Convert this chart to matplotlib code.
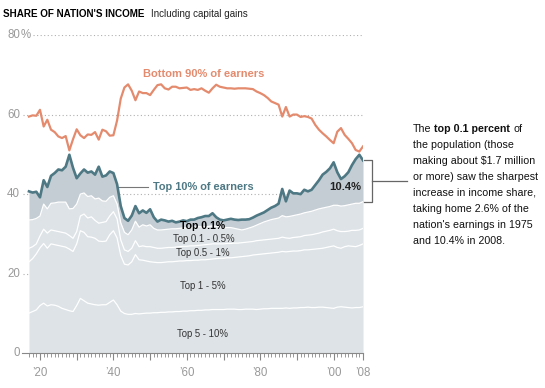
import numpy as np
import matplotlib.pyplot as plt

plt.rcParams['font.family'] = ['Liberation Sans', 'DejaVu Sans']

years = list(range(1917, 2009))

# Top 10% of earners (teal line, top of the shaded stack)
top10 = [
    40.7, 40.4, 40.6,                                            # 1917-19
    39.2, 43.5, 41.8, 44.6, 45.3, 46.2, 46.0, 46.9, 49.9, 46.6,  # 1920s
    44.0, 45.2, 46.2, 45.4, 45.7, 44.9, 46.9, 44.4, 44.7, 45.7,  # 1930s
    45.3, 42.5, 37.0, 34.0, 33.3, 34.6, 37.0, 35.2, 35.9, 35.3,  # 1940s
    36.2, 34.2, 33.1, 33.6, 33.4, 33.1, 33.3, 32.9, 33.1, 33.4,  # 1950s
    33.2, 33.6, 33.6, 34.0, 34.2, 34.5, 34.5, 35.2, 34.2, 33.6,  # 1960s
    33.4, 33.6, 33.8, 33.6, 33.5, 33.6, 33.6, 33.7, 34.1, 34.6,  # 1970s
    35.0, 35.4, 36.0, 36.6, 37.0, 37.6, 41.3, 38.2, 40.9, 40.2,  # 1980s
    40.2, 40.0, 41.1, 40.7, 41.1, 42.3, 43.5, 44.9, 45.6, 46.5,  # 1990s
    48.0, 45.5, 43.8, 44.5, 45.5, 47.3, 48.8, 49.9, 48.5,        # 2000-08
]

# Bottom 90% of earners (orange line)
bottom90 = [
    59.5, 59.8, 59.7,
    61.2, 57.0, 58.7, 56.2, 55.6, 54.5, 54.1, 54.6, 51.0, 53.8,
    56.3, 54.8, 54.1, 55.0, 54.9, 55.6, 53.7, 56.2, 55.8, 54.7,
    54.8, 58.5, 64.0, 66.8, 67.6, 66.0, 63.6, 65.8, 65.4, 65.4,
    64.9, 66.2, 67.4, 67.6, 66.6, 66.3, 67.0, 67.0, 66.6, 66.7,
    66.8, 66.2, 66.4, 66.2, 66.6, 66.0, 65.5, 66.6, 67.5, 67.0,
    66.8, 66.6, 66.6, 66.5, 66.6, 66.6, 66.6, 66.5, 66.4, 65.8,
    65.4, 64.9, 64.2, 63.3, 62.9, 62.5, 59.5, 61.9, 59.5, 60.0,
    60.0, 59.4, 59.6, 59.4, 59.0, 57.4, 56.2, 55.3, 54.5, 53.6,
    52.8, 55.7, 56.6, 54.9, 53.9, 52.8, 51.1, 50.7, 52.0,
]

# Cumulative shares inside the top decile (bottom of stack upward)
# top 5-10%
p90_95 = [
    10.1, 10.5, 10.9,
    12.0, 12.6, 11.9, 12.2, 12.1, 11.8, 11.3, 11.0, 10.7, 10.5,
    12.0, 13.8, 13.2, 12.6, 12.4, 12.2, 12.1, 12.2, 12.2, 12.8,
    13.4, 12.2, 10.6, 10.0, 9.8, 9.8, 10.0, 9.9, 10.0, 10.1,
    10.1, 10.2, 10.2, 10.3, 10.3, 10.4, 10.4, 10.5, 10.5, 10.6,
    10.6, 10.7, 10.7, 10.8, 10.8, 10.9, 10.9, 11.0, 11.0, 11.0,
    11.0, 11.1, 11.1, 11.1, 11.0, 11.0, 11.1, 11.1, 11.1, 11.0,
    11.1, 11.2, 11.2, 11.3, 11.3, 11.3, 11.3, 11.4, 11.3, 11.4,
    11.4, 11.5, 11.5, 11.6, 11.5, 11.5, 11.6, 11.6, 11.5, 11.4,
    11.3, 11.6, 11.7, 11.6, 11.5, 11.4, 11.5, 11.5, 11.7,
]
# + top 1-5%
p90_99 = [
    23.0, 23.8, 25.0,
    26.5, 27.6, 26.4, 27.5, 27.3, 27.1, 26.9, 26.7, 26.2, 25.6,
    27.5, 30.8, 30.4, 29.3, 29.2, 28.9, 28.2, 28.1, 28.2, 29.8,
    30.8, 29.0, 24.6, 22.4, 22.2, 23.0, 24.8, 23.5, 23.4, 23.2,
    23.0, 22.9, 22.8, 22.8, 22.9, 23.0, 23.0, 23.1, 23.2, 23.2,
    23.3, 23.3, 23.4, 23.4, 23.5, 23.5, 23.6, 23.7, 23.8, 23.9,
    23.9, 24.0, 24.0, 24.1, 24.2, 24.3, 24.4, 24.5, 24.7, 24.8,
    24.9, 25.0, 25.1, 25.2, 25.3, 25.4, 25.6, 25.5, 25.6, 25.7,
    25.7, 25.8, 26.0, 26.0, 26.1, 26.2, 26.3, 26.4, 26.6, 26.8,
    27.0, 26.6, 26.4, 26.8, 27.0, 26.9, 26.8, 27.1, 27.5,
]
# + top 0.5-1%
p90_995 = [
    26.4, 26.8, 27.5,
    29.5, 31.2, 30.2, 31.0, 30.8, 30.6, 30.4, 30.2, 29.6, 28.9,
    30.6, 34.5, 35.0, 34.0, 34.3, 33.4, 32.7, 32.9, 33.1, 34.5,
    35.6, 33.8, 28.5, 26.0, 25.6, 26.4, 28.3, 26.8, 27.0, 26.8,
    26.8, 26.6, 26.4, 26.4, 26.5, 26.6, 26.6, 26.7, 26.8, 26.9,
    26.9, 27.0, 27.0, 27.1, 27.2, 27.3, 27.4, 27.5, 27.5, 27.5,
    27.5, 27.6, 27.6, 27.7, 27.7, 27.8, 27.9, 28.0, 28.1, 28.3,
    28.4, 28.5, 28.6, 28.7, 28.8, 28.9, 29.2, 29.0, 28.9, 29.1,
    29.2, 29.3, 29.6, 29.7, 29.8, 30.0, 30.2, 30.5, 30.7, 30.9,
    31.2, 30.8, 30.6, 30.6, 30.7, 30.9, 30.9, 31.0, 31.4,
]
# + top 0.1-0.5%  (what is left up to top10 is the top 0.1%)
p90_999 = [
    33.5, 33.6, 33.9,
    34.5, 37.5, 36.3, 37.7, 37.8, 38.0, 38.0, 38.0, 36.3, 36.4,
    37.5, 40.0, 40.3, 39.4, 39.6, 38.8, 39.0, 38.3, 38.2, 39.2,
    39.6, 37.5, 32.8, 30.4, 29.8, 31.0, 33.2, 31.7, 32.3, 32.0,
    32.3, 31.4, 31.0, 31.0, 31.1, 31.2, 31.3, 31.3, 31.4, 31.5,
    31.5, 31.6, 31.7, 31.8, 31.8, 31.8, 31.9, 32.0, 31.9, 31.9,
    31.5, 31.6, 31.6, 31.4, 31.2, 31.0, 31.2, 31.5, 31.8, 32.2,
    32.6, 33.0, 33.3, 33.6, 33.8, 34.0, 34.6, 34.3, 34.4, 34.6,
    34.8, 35.0, 35.3, 35.5, 35.7, 36.0, 36.3, 36.5, 36.7, 36.9,
    37.2, 37.2, 37.0, 37.1, 37.3, 37.5, 37.7, 37.7, 38.1,
]

tick_years = [1920, 1930, 1940, 1950, 1960, 1970, 1980, 1990, 2000, 2008]
tick_labels = ["\u201920", "", "\u201940", "", "\u201960", "", "\u201980", "",
               "\u201900", "\u201908"]
y_levels = [20, 40, 60, 80]

note_lines = [
    "the population (those",
    "making about $1.7 million",
    "or more) saw the sharpest",
    "increase in income share,",
    "taking home 2.6% of the",
    "nation's earnings in 1975",
    "and 10.4% in 2008.",
]

W, H = 545, 388
TEAL = '#4d7884'
ORANGE = '#e48b6e'
LIGHT = '#dde3e7'
DARK = '#c4cdd3'
GREY = '#999999'

fig = plt.figure(figsize=(W / 100, H / 100), dpi=100)
ax = fig.add_axes([22 / W, 1 - 353.3 / H, 341 / W, 318.3 / H])
ax.set_xlim(1915.1, 2008)
ax.set_ylim(0, 80)

# dotted gridlines + y labels
for y in y_levels:
    x0 = 1918.0 if y == 80 else 1915.4
    ax.plot([x0, 2008], [y, y], color='#b0b0b0', lw=0.8, ls=(0, (1, 2.2)), zorder=0)
    ax.text(1914.6, y, str(y), ha='right', va='center', fontsize=8.3,
            color=GREY, clip_on=False)
ax.text(1914.6, 0, '0', ha='right', va='center', fontsize=8.3, color=GREY, clip_on=False)
ax.text(1914.6, 80, '%', ha='left', va='center', fontsize=8.3, color=GREY, clip_on=False)

# stacked bands of the top decile
ax.fill_between(years, 0, p90_999, color=LIGHT, lw=0, zorder=1)
ax.fill_between(years, p90_999, top10, color=DARK, lw=0, zorder=1)
for s in [p90_95, p90_99, p90_995, p90_999]:
    ax.plot(years, s, color='white', lw=0.9, zorder=2)

ax.plot(years, top10, color=TEAL, lw=1.9, zorder=4, solid_joinstyle='round')
ax.plot(years, bottom90, color=ORANGE, lw=1.6, zorder=4, solid_joinstyle='round')

# axes styling
for side in ['top', 'right', 'left']:
    ax.spines[side].set_visible(False)
ax.spines['bottom'].set_color('#888888')
ax.spines['bottom'].set_linewidth(0.8)
ax.set_yticks([])
ax.set_xticks(tick_years, tick_labels)
ax.set_xticks(years, minor=True)
ax.tick_params(axis='x', which='major', length=5, width=0.8, color='#888888',
               pad=5, labelsize=8.3, labelcolor=GREY)
ax.tick_params(axis='x', which='minor', length=2.8, width=0.6, color='#888888')

# series labels
ax.text(1964.7, 70.3, 'Bottom 90% of earners', ha='center', va='center',
        fontsize=8.0, weight='bold', color=ORANGE)
ax.plot([1941.3, 1949.4], [41.9, 41.9], color='#777777', lw=0.8, zorder=3)
ax.text(1950.7, 41.8, 'Top 10% of earners', ha='left', va='center',
        fontsize=7.9, weight='bold', color=TEAL, zorder=5)
ax.text(1964.4, 32.0, 'Top 0.1%', ha='center', va='center', fontsize=7.6,
        weight='bold', color='black', zorder=5)
ax.text(1964.7, 28.8, 'Top 0.1 - 0.5%', ha='center', va='center', fontsize=6.9, color='#333333', zorder=5)
ax.text(1964.4, 25.3, 'Top 0.5 - 1%', ha='center', va='center', fontsize=6.9, color='#333333', zorder=5)
ax.text(1964.4, 16.8, 'Top 1 - 5%', ha='center', va='center', fontsize=6.9, color='#333333', zorder=5)
ax.text(1964.3, 4.9, 'Top 5 - 10%', ha='center', va='center', fontsize=6.9, color='#333333', zorder=5)
ax.text(2007.5, 41.7, '10.4%', ha='right', va='center', fontsize=8.1,
        weight='bold', color='#222222', zorder=5)

# bracket around the top 0.1% band in 2008
xb = 2010.5
ax.plot([2008.3, xb, xb, 2008.3], [top10[-1], top10[-1], p90_999[-1], p90_999[-1]],
        color='#666666', lw=0.9, clip_on=False)
mid = (top10[-1] + p90_999[-1]) / 2
ax.plot([xb, 2019.9], [mid, mid], color='#666666', lw=0.9, clip_on=False)

# title
fig.text(3.3 / W, 1 - 16.7 / H, "SHARE OF NATION'S INCOME", fontsize=7.1,
         weight='bold', color='black', va='baseline')
fig.text(151 / W, 1 - 16.7 / H, 'Including capital gains', fontsize=7.15,
         color='#222222', va='baseline')

# side note, first line has a bold run
fig.canvas.draw()
r = fig.canvas.get_renderer()


def text_width(s, **kw):
    t = fig.text(0, 0, s, **kw)
    w = t.get_window_extent(renderer=r).width
    t.remove()
    return w


note_kw = dict(fontsize=7.7, color='#111111', va='baseline')
space = text_width('a a', **note_kw) - text_width('aa', **note_kw)
x = 413
y0 = 131.7
for s, wgt in [('The', 'normal'), ('top 0.1 percent', 'bold'), ('of', 'normal')]:
    fig.text(x / W, 1 - y0 / H, s, weight=wgt, **note_kw)
    x += text_width(s, weight=wgt, **note_kw) + space
for i, line in enumerate(note_lines):
    fig.text(413 / W, 1 - (y0 + 16.05 * (i + 1)) / H, line, **note_kw)

fig.savefig('out.png', dpi=100)
